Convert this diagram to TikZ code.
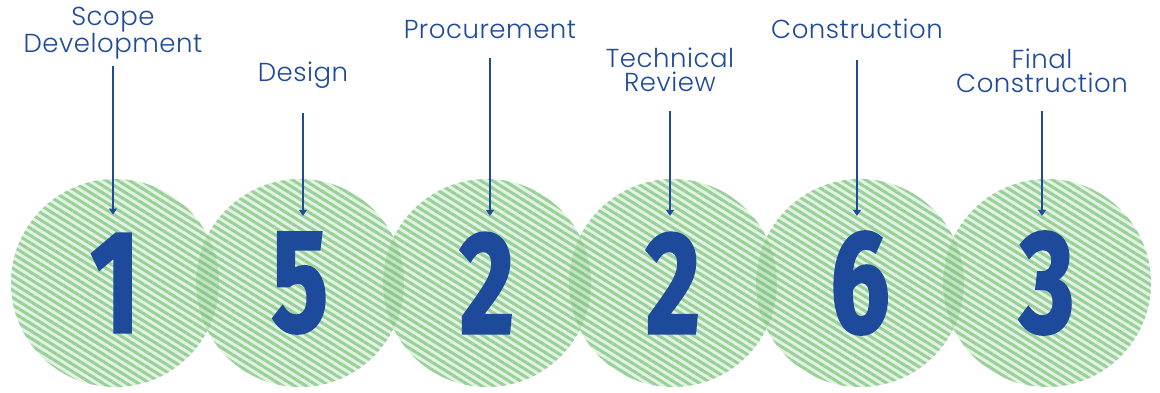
\documentclass[tikz,border=0pt]{standalone}
\usepackage{fontspec}
\usetikzlibrary{arrows.meta, positioning, patterns.meta}

\newfontfamily\labelfont{Poppins Light}[LetterSpace=2]
\newfontfamily\numfont{Fira Sans}[BoldFeatures={FakeBold=2.2}]
\definecolor{navy}{RGB}{29,74,155}
\definecolor{stripe}{RGB}{152,209,152}
\definecolor{stripebg}{RGB}{228,242,228}
\definecolor{lens}{RGB}{90,175,90}

\begin{document}
\begin{tikzpicture}[
	x=1pt, y=-1pt,
	disc/.style={circle, minimum size=208pt, inner sep=0pt,
		preaction={fill=stripebg},
		pattern={Lines[angle=-32, distance=6.2pt, line width=3pt]}, pattern color=stripe,
		text=navy,
		font=\numfont\bfseries\fontsize{145}{145}\selectfont},
	steplabel/.style={anchor=south, align=center, inner sep=0pt, text=navy,
		font=\labelfont\fontsize{26}{24}\selectfont},
	pointer/.style={-{Triangle[length=6pt, width=8pt]}, navy, line width=1.3pt}
	]
	\useasboundingbox (0,0) rectangle (1160,392);
	
	% === STAGE DISCS ===
	\foreach \i/\x/\num in {1/115/1, 2/300/5, 3/487/2, 4/673/2, 5/860/6, 6/1047/3} {
		\node[disc] (disc\i) at (\x, 283) {\scalebox{0.72}[1]{\num}};
	}
	
	% darker lens where two discs overlap
	\foreach \i/\j in {1/2, 2/3, 3/4, 4/5, 5/6} {
		\begin{scope}
			\clip (disc\i.center) circle[radius=104];
			\fill[lens, opacity=0.22] (disc\j.center) circle[radius=104];
		\end{scope}
	}
	
	% === STAGE LABELS AND POINTERS ===
	\foreach \i/\x/\y/\gap/\txt in {1/113/59/7/{Scope\\Development},
		2/303/89/24/Design,
		3/490/39/19/Procurement,
		4/670/92/19/{Technical\\Review},
		5/857/39/21/Construction,
		6/1042/93/18/{Final\\Construction}} {
		\node[steplabel] (label\i) at (\x, \y) {\txt};
		\draw[pointer, shorten <=\gap pt] (label\i.south) -- ([yshift=-37pt]disc\i.north -| label\i.south);
	}
	
\end{tikzpicture}
\end{document}
